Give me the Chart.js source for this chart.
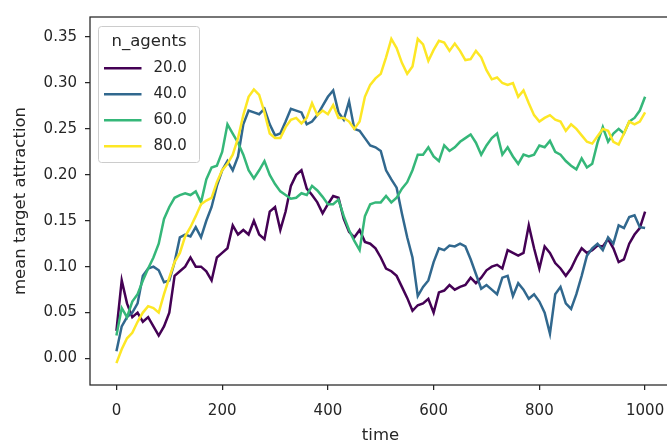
<!DOCTYPE html>
<html>
<head>
<meta charset="utf-8">
<script src="https://cdn.jsdelivr.net/npm/chart.js@4.4.0/dist/chart.umd.min.js"></script>
<style>
  html, body { margin: 0; padding: 0; background: #fff; overflow: hidden; }
  canvas { display: block; }
</style>
</head>
<body>
<canvas id="myChart" width="672" height="441"></canvas>
<script>
// sampled every 10 steps
const time = Array.from({ length: 101 }, (_, i) => i * 10);

const agents20 = [
  0.030, 0.085, 0.060, 0.045, 0.050, 0.040, 0.045, 0.035, 0.025, 0.035,
  0.050, 0.090, 0.095, 0.100, 0.110, 0.100, 0.100, 0.095, 0.085, 0.110,
  0.115, 0.120, 0.145, 0.135, 0.140, 0.135, 0.150, 0.135, 0.130, 0.160,
  0.165, 0.140, 0.160, 0.188, 0.200, 0.205, 0.185, 0.178, 0.170, 0.158,
  0.168, 0.177, 0.175, 0.152, 0.138, 0.132, 0.140, 0.127, 0.125, 0.120,
  0.110, 0.098, 0.095, 0.090, 0.078, 0.066, 0.052, 0.058, 0.060, 0.065,
  0.050, 0.072, 0.074, 0.080, 0.075, 0.078, 0.080, 0.088, 0.082, 0.088,
  0.096, 0.100, 0.102, 0.098, 0.118, 0.115, 0.112, 0.115, 0.145, 0.120,
  0.098, 0.122, 0.115, 0.104, 0.098, 0.090, 0.098, 0.110, 0.120, 0.115,
  0.118, 0.123, 0.122, 0.130, 0.120, 0.105, 0.108, 0.125, 0.135, 0.142,
  0.160
];

const agents40 = [
  0.008, 0.035, 0.045, 0.050, 0.060, 0.090, 0.098, 0.100, 0.096, 0.083,
  0.085, 0.105, 0.132, 0.135, 0.133, 0.143, 0.132, 0.150, 0.165, 0.188,
  0.205, 0.215, 0.205, 0.220, 0.255, 0.270, 0.268, 0.266, 0.272, 0.255,
  0.243, 0.245, 0.258, 0.272, 0.270, 0.268, 0.255, 0.258, 0.265, 0.275,
  0.285, 0.292, 0.268, 0.260, 0.280, 0.250, 0.248, 0.240, 0.232, 0.230,
  0.226, 0.205, 0.195, 0.186, 0.158, 0.132, 0.110, 0.068, 0.078, 0.085,
  0.105, 0.120, 0.118, 0.123, 0.122, 0.125, 0.122, 0.108, 0.092, 0.076,
  0.080, 0.075, 0.070, 0.088, 0.090, 0.068, 0.082, 0.075, 0.065, 0.070,
  0.062, 0.050, 0.027, 0.070, 0.078, 0.060, 0.054, 0.070, 0.090, 0.112,
  0.120, 0.125, 0.118, 0.132, 0.125, 0.145, 0.142, 0.154, 0.156, 0.143,
  0.142
];

const agents60 = [
  0.025, 0.055, 0.045, 0.062, 0.070, 0.085, 0.098, 0.110, 0.125, 0.152,
  0.165, 0.175, 0.178, 0.180, 0.178, 0.182, 0.170, 0.195, 0.208, 0.210,
  0.225, 0.255, 0.245, 0.235, 0.222, 0.205, 0.196, 0.205, 0.215, 0.200,
  0.190, 0.182, 0.178, 0.174, 0.175, 0.180, 0.178, 0.188, 0.183, 0.176,
  0.168, 0.168, 0.173, 0.155, 0.140, 0.128, 0.118, 0.155, 0.168, 0.170,
  0.170, 0.177, 0.170, 0.175, 0.185, 0.192, 0.205, 0.222, 0.222, 0.230,
  0.220, 0.215, 0.232, 0.226, 0.230, 0.236, 0.240, 0.244, 0.235, 0.222,
  0.232, 0.240, 0.245, 0.222, 0.230, 0.220, 0.212, 0.222, 0.220, 0.222,
  0.232, 0.230, 0.237, 0.225, 0.222, 0.215, 0.210, 0.206, 0.218, 0.208,
  0.212, 0.235, 0.252, 0.236, 0.245, 0.250, 0.245, 0.258, 0.262, 0.270,
  0.285
];

const agents80 = [
  -0.005, 0.010, 0.022, 0.028, 0.040, 0.050, 0.057, 0.055, 0.050, 0.070,
  0.088, 0.105, 0.115, 0.133, 0.143, 0.155, 0.168, 0.172, 0.175, 0.192,
  0.205, 0.212, 0.222, 0.240, 0.265, 0.285, 0.293, 0.287, 0.268, 0.245,
  0.240, 0.240, 0.252, 0.260, 0.262, 0.256, 0.262, 0.278, 0.265, 0.270,
  0.266, 0.276, 0.262, 0.262, 0.258, 0.250, 0.258, 0.285, 0.298, 0.305,
  0.310, 0.328, 0.348, 0.338, 0.322, 0.310, 0.318, 0.348, 0.342, 0.324,
  0.336, 0.346, 0.344, 0.335, 0.343, 0.335, 0.325, 0.326, 0.335, 0.328,
  0.314, 0.304, 0.306, 0.300, 0.298, 0.300, 0.285, 0.292, 0.278, 0.265,
  0.258, 0.262, 0.265, 0.260, 0.258, 0.248, 0.255, 0.250, 0.243, 0.236,
  0.234, 0.242, 0.250, 0.248, 0.236, 0.233, 0.245, 0.258, 0.255, 0.258,
  0.268
];

const seriesNames = ['20.0', '40.0', '60.0', '80.0'];
const seriesColors = ['#440154', '#31688e', '#35b779', '#fde725'];
const xTicks = [0, 200, 400, 600, 800, 1000];
const yTicks = [0, 0.05, 0.10, 0.15, 0.20, 0.25, 0.30, 0.35];
const legendTitle = 'n_agents';

const series = [agents20, agents40, agents60, agents80];
const ink = '#262626';
const family = "'DejaVu Sans', sans-serif";

// box round the plot area
const frame = {
  id: 'frame',
  afterDatasetsDraw(chart) {
    const { ctx, chartArea: a } = chart;
    ctx.save();
    ctx.strokeStyle = ink;
    ctx.lineWidth = 1.25;
    ctx.strokeRect(a.left, a.top, a.right - a.left, a.bottom - a.top);
    ctx.restore();
  }
};

// legend in the upper left corner, drawn by hand
const legendBox = {
  id: 'legendBox',
  afterDraw(chart) {
    const { ctx, chartArea: a } = chart;
    const x = a.left + 8.5, y = a.top + 9.5, w = 101, h = 136;
    ctx.save();
    ctx.beginPath();
    ctx.roundRect(x, y, w, h, 3);
    ctx.fillStyle = 'rgba(255,255,255,0.8)';
    ctx.fill();
    ctx.strokeStyle = '#cccccc';
    ctx.lineWidth = 1;
    ctx.stroke();

    ctx.fillStyle = ink;
    ctx.textBaseline = 'middle';
    ctx.textAlign = 'center';
    ctx.font = '16.5px ' + family;
    ctx.fillText(legendTitle, x + w / 2, a.top + 25);

    ctx.font = '15px ' + family;
    ctx.textAlign = 'left';
    chart.data.datasets.forEach((ds, i) => {
      const rowY = a.top + 51.3 + i * 26;
      ctx.strokeStyle = ds.borderColor;
      ctx.lineWidth = 2.5;
      ctx.beginPath();
      ctx.moveTo(x + 5.5, rowY);
      ctx.lineTo(x + 43, rowY);
      ctx.stroke();
      ctx.fillText(ds.label, x + 55, rowY);
    });
    ctx.restore();
  }
};

new Chart(document.getElementById('myChart'), {
  type: 'line',
  data: {
    datasets: series.map((vals, i) => ({
      label: seriesNames[i],
      data: time.map((t, j) => ({ x: t, y: vals[j] })),
      borderColor: seriesColors[i],
      backgroundColor: seriesColors[i],
      borderWidth: 2.5,
      pointRadius: 0,
      tension: 0,
      fill: false,
      order: series.length - i
    }))
  },
  options: {
    responsive: false,
    animation: false,
    devicePixelRatio: 1,
    layout: { padding: { left: 0, right: 1, top: 6, bottom: 0 } },
    plugins: {
      legend: { display: false },
      tooltip: { enabled: false }
    },
    scales: {
      x: {
        type: 'linear',
        min: -50,
        max: 1049,
        afterBuildTicks: axis => { axis.ticks = xTicks.map(v => ({ value: v })); },
        afterFit: axis => {
          axis.height = 56;
          // labels sit well inside the axis, no extra side padding wanted
          axis.paddingLeft = 0;
          axis.paddingRight = 0;
        },
        ticks: {
          color: ink,
          font: { family: family, size: 15 },
          padding: 12,
          maxRotation: 0,
          callback: v => String(v)
        },
        grid: { drawOnChartArea: false, drawTicks: true, tickLength: 5, color: ink, lineWidth: 1.25 },
        border: { display: false },
        title: {
          display: true,
          text: 'time',
          color: ink,
          font: { family: family, size: 16.5, lineHeight: 1 },
          padding: { top: 0, bottom: -2.5 }
        }
      },
      y: {
        type: 'linear',
        min: -0.02886,
        max: 0.37189,
        afterBuildTicks: axis => { axis.ticks = yTicks.map(v => ({ value: v })); },
        afterFit: axis => { axis.width = 90; },
        ticks: {
          color: ink,
          font: { family: family, size: 15 },
          padding: 8,
          callback: v => v.toFixed(2)
        },
        grid: { drawOnChartArea: false, drawTicks: true, tickLength: 5, color: ink, lineWidth: 1.25 },
        border: { display: false },
        title: {
          display: true,
          text: 'mean target attraction',
          color: ink,
          font: { family: family, size: 16.5, lineHeight: 1.2 },
          padding: { top: 11, bottom: 0 }
        }
      }
    }
  },
  plugins: [frame, legendBox]
});
</script>
</body>
</html>
